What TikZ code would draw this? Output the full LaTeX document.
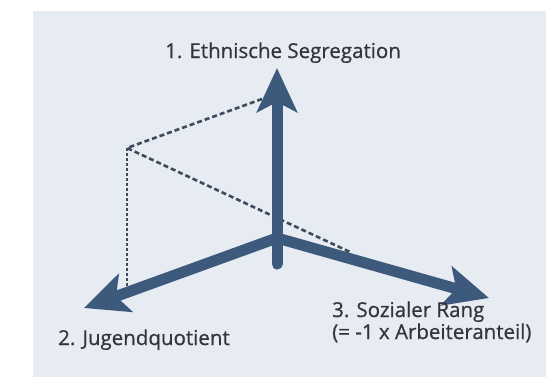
\documentclass[tikz,border=0pt]{standalone}
\usepackage{fontspec}
\setmainfont{Open Sans}
\usetikzlibrary{arrows.meta}
\definecolor{bgc}{HTML}{E7EBF2}
\definecolor{axc}{HTML}{3D5A7D}
\definecolor{txc}{HTML}{34343C}
\definecolor{dsc}{HTML}{3E4A5E}
\tikzset{
  axis/.style={draw=axc, line width=11pt, line cap=round, -{Stealth[length=44pt, width=40pt, inset=10pt, line cap=butt]}},
  guide/.style={draw=dsc, line width=2.6pt, dash pattern=on 5pt off 3pt},
  lab/.style={text=txc, font=\fontsize{20.5}{24}\selectfont\addfontfeature{FakeBold=0.6}, inner sep=0pt, anchor=base west},
}
\begin{document}
\begin{tikzpicture}[x=1pt,y=-1pt]
\useasboundingbox (0,0) rectangle (560,378);
\fill[bgc] (33,11) rectangle (546,377);
% coordinates
\coordinate (O) at (277,238);
\coordinate (B) at (277,264);
\coordinate (T1) at (277,68);
\coordinate (T2) at (84,308);
\coordinate (T3) at (489,298);
\coordinate (P) at (127,148);
\coordinate (Q1) at (262,99);
\coordinate (Q2) at (350,252);
\coordinate (Q3) at (127,288);
% guide lines
\draw[guide] (Q1) -- (P) -- (Q2);
\draw[guide, dash pattern=on 3pt off 2pt] (P) -- (Q3);
% axes
\draw[axis] (B) -- (T1);
\draw[axis] (O) -- (T2);
\draw[axis] (O) -- (T3);
% labels
\node[lab] (L1) at (165,58) {1. Ethnische Segregation};
\node[lab] (L2) at (58,345) {2. Jugendquotient};
\node[lab] (L3) at (332,317) {3. Sozialer Rang};
\node[lab] (L4) at (332,339) {(= -1 x Arbeiteranteil)};
\end{tikzpicture}
\end{document}
